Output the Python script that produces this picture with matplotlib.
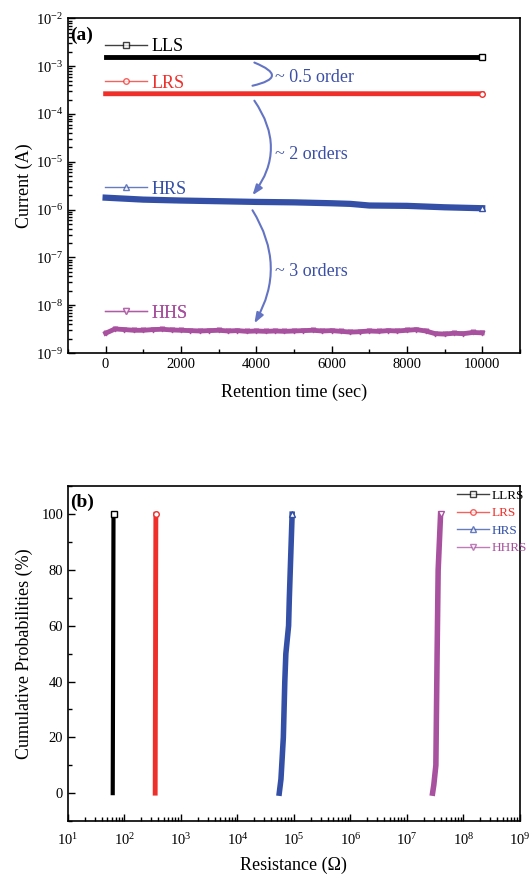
import numpy as np
import matplotlib
matplotlib.use('Agg')
import matplotlib.pyplot as plt
from matplotlib.lines import Line2D
from matplotlib.ticker import LogLocator, MultipleLocator, NullFormatter, LogFormatterSciNotation

plt.rcParams['font.family'] = ['Liberation Serif', 'DejaVu Serif']
plt.rcParams['mathtext.fontset'] = 'custom'
plt.rcParams['mathtext.rm'] = 'Liberation Serif'
plt.rcParams['mathtext.it'] = 'Liberation Serif:italic'
plt.rcParams['mathtext.bf'] = 'Liberation Serif:bold'

# ---- panel (a): retention ----
t_flat = [0, 2500, 5000, 7500, 10000]
lls = [1.55e-3, 1.55e-3, 1.55e-3, 1.55e-3, 1.55e-3]
lrs = [2.65e-4, 2.65e-4, 2.66e-4, 2.65e-4, 2.65e-4]

t_hrs = [0, 1000, 2000, 3000, 4000, 5000, 6000, 6500, 7000, 8000, 9000, 10000]
hrs = [1.78e-6, 1.62e-6, 1.55e-6, 1.5e-6, 1.45e-6, 1.42e-6, 1.36e-6, 1.32e-6, 1.22e-6,
       1.2e-6, 1.12e-6, 1.07e-6]

t_hhs = list(range(0, 10001, 250))
hhs = [2.6, 3.2, 3.1, 3.0, 3.0, 3.1, 3.15, 3.05, 3.0, 2.95, 2.9, 2.95, 3.0, 2.9, 2.95,
       2.85, 2.9, 2.85, 2.9, 2.85, 2.9, 2.95, 3.0, 2.9, 2.95, 2.85, 2.75, 2.8, 2.9, 2.85,
       2.95, 2.9, 3.0, 3.1, 2.9, 2.55, 2.5, 2.6, 2.55, 2.7, 2.65]
hhs = [v * 1e-9 for v in hhs]

# ---- panel (b): cumulative distributions ----
p_llrs = [0, 25, 50, 75, 100]
r_llrs = [62, 62.5, 63, 63.5, 64]
p_lrs = [0, 25, 50, 75, 100]
r_lrs = [350, 352, 355, 357, 360]
p_hrs = [0, 5, 20, 40, 50, 60, 70, 100]
r_hrs = [5.5e4, 5.9e4, 6.5e4, 6.9e4, 7.2e4, 8.05e4, 8.3e4, 9.3e4]
p_hhrs = [0, 3, 10, 50, 80, 100]
r_hhrs = [2.85e7, 3.0e7, 3.26e7, 3.43e7, 3.58e7, 3.95e7]

C_BLACK = "#000000"
C_RED = "#ee2f2a"
C_BLUE = "#3350a6"
C_PURP = "#a8529f"
C_ARROW = "#6474c4"
C_NOTE = "#3b4fa6"

fig = plt.figure(figsize=(5.31, 8.74), dpi=100)
ax1 = fig.add_axes([0.128, 0.596, 0.851, 0.383])
ax2 = fig.add_axes([0.128, 0.0606, 0.851, 0.383])


def style_axes(ax):
    for s in ax.spines.values():
        s.set_linewidth(1.2)
    ax.tick_params(which='both', direction='in', top=False, right=False, labelsize=10.5, width=1)
    ax.tick_params(which='major', length=5)
    ax.tick_params(which='minor', length=3)


# panel (a)
ax1.plot(t_flat, lls, color=C_BLACK, lw=3.5, marker='s', mfc='white', ms=4, markevery=[-1])
ax1.plot(t_flat, lrs, color=C_RED, lw=3.5, marker='o', mfc='white', ms=4, markevery=[-1])
ax1.plot(t_hrs, hrs, color=C_BLUE, lw=4.5, marker='^', mfc='white', ms=4, markevery=[-1])
ax1.plot(t_hhs, hhs, color=C_PURP, lw=3.5, marker='v', mfc='none', ms=3.5, mew=0.8)

ax1.set_yscale('log')
ax1.set_ylim(1e-9, 1e-2)
ax1.set_xlim(-1000, 11000)
ax1.xaxis.set_major_locator(MultipleLocator(2000))
ax1.xaxis.set_minor_locator(MultipleLocator(1000))
ax1.yaxis.set_major_locator(LogLocator(base=10, numticks=20))
ax1.yaxis.set_minor_locator(LogLocator(base=10, subs=np.arange(2, 10), numticks=100))
ax1.yaxis.set_major_formatter(LogFormatterSciNotation())
ax1.yaxis.set_minor_formatter(NullFormatter())
style_axes(ax1)
ax1.set_xlabel("Retention time (sec)", fontsize=13, labelpad=9)
ax1.set_ylabel("Current (A)", fontsize=13, labelpad=2)
ax1.text(0.005, 0.95, "(a)", transform=ax1.transAxes, fontsize=14, fontweight='bold', va='center')

legend_rows = [
    ("LLS", C_BLACK, 's', 0.916),
    ("LRS", C_RED, 'o', 0.806),
    ("HRS", C_BLUE, '^', 0.49),
    ("HHS", C_PURP, 'v', 0.119),
]
for name, col, mk, ypos in legend_rows:
    h = Line2D([], [], color=col, lw=1, marker=mk, mfc='white', ms=4, alpha=0.75)
    lg = ax1.legend([h], [name], loc='center left', bbox_to_anchor=(0.082, ypos),
                    frameon=False, fontsize=13, handlelength=2.3, handletextpad=0.25,
                    borderpad=0, borderaxespad=0, numpoints=1)
    lg.get_texts()[0].set_color(col)
    ax1.add_artist(lg)

arrows = [
    ((3950, 1.19e-3), (3900, 3.9e-4), -1.6, '-'),
    ((3950, 1.9e-4), (3900, 2.0e-6), -0.36, '-|>,head_length=0.6,head_width=0.22'),
    ((3900, 9.7e-7), (3950, 4.2e-9), -0.3, '-|>,head_length=0.6,head_width=0.22'),
]
for start, end, rad, style in arrows:
    ax1.annotate("", xy=end, xytext=start,
                 arrowprops=dict(arrowstyle=style, color=C_ARROW, lw=1.5,
                                 connectionstyle=f"arc3,rad={rad}", shrinkA=0, shrinkB=0))

notes = [("~ 0.5 order", 5.8e-4), ("~ 2 orders", 1.45e-5), ("~ 3 orders", 5.2e-8)]
for txt, yv in notes:
    ax1.text(4500, yv, txt, color=C_NOTE, fontsize=13, va='center', ha='left')

# panel (b)
ax2.plot(r_llrs, p_llrs, color=C_BLACK, lw=3, marker='s', mfc='white', ms=4, markevery=[-1])
ax2.plot(r_lrs, p_lrs, color=C_RED, lw=3.5, marker='o', mfc='white', ms=4, markevery=[-1])
ax2.plot(r_hrs, p_hrs, color=C_BLUE, lw=4, marker='^', mfc='white', ms=4, markevery=[-1])
ax2.plot(r_hhrs, p_hhrs, color=C_PURP, lw=4, marker='v', mfc='white', ms=4, markevery=[-1])

ax2.set_xscale('log')
ax2.set_xlim(1e1, 1e9)
ax2.set_ylim(-10, 110)
ax2.yaxis.set_major_locator(MultipleLocator(20))
ax2.yaxis.set_minor_locator(MultipleLocator(10))
ax2.xaxis.set_major_locator(LogLocator(base=10, numticks=20))
ax2.xaxis.set_minor_locator(LogLocator(base=10, subs=np.arange(2, 10), numticks=100))
ax2.xaxis.set_major_formatter(LogFormatterSciNotation())
ax2.xaxis.set_minor_formatter(NullFormatter())
style_axes(ax2)
ax2.tick_params(axis='x', which='major', pad=8)
ax2.set_xlabel("Resistance (Ω)", fontsize=13, labelpad=6)
ax2.set_ylabel("Cumulative Probabilities (%)", fontsize=13, labelpad=6)
ax2.text(0.005, 0.952, "(b)", transform=ax2.transAxes, fontsize=14, fontweight='bold', va='center')

handles = [Line2D([], [], color=c, lw=1, marker=m, mfc='white', ms=4, alpha=0.75)
           for c, m in [(C_BLACK, 's'), (C_RED, 'o'), (C_BLUE, '^'), (C_PURP, 'v')]]
lg = ax2.legend(handles, ["LLRS", "LRS", "HRS", "HHRS"], loc='upper left',
                bbox_to_anchor=(0.861, 0.99), frameon=False, fontsize=9.5,
                handlelength=2.4, handletextpad=0.25, labelspacing=0.4,
                borderpad=0, borderaxespad=0, numpoints=1)
for txt, c in zip(lg.get_texts(), [C_BLACK, C_RED, C_BLUE, C_PURP]):
    txt.set_color(c)

fig.savefig("out.png", dpi=100)
